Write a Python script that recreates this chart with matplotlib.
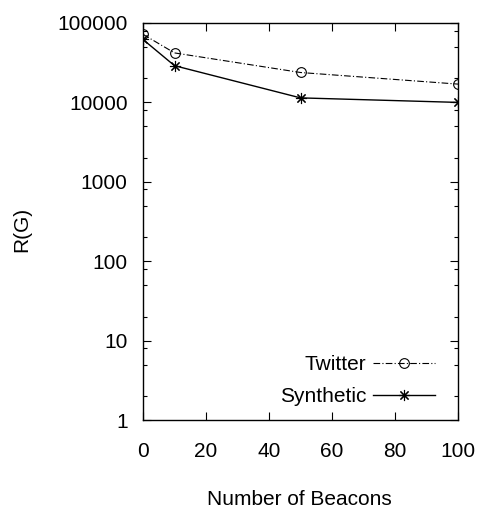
import matplotlib
matplotlib.use('Agg')
import matplotlib.pyplot as plt
from matplotlib.ticker import LogLocator, NullFormatter, FixedLocator

plt.rcParams['font.family'] = ['Liberation Sans', 'DejaVu Sans']

beacons = [0, 10, 50, 100]
twitter = [72000, 42000, 23800, 17000]
synthetic = [62000, 29000, 11400, 10000]

x_ticks = [0, 20, 40, 60, 80, 100]
y_ticks = [1, 10, 100, 1000, 10000, 100000]
y_labels = ['1', '10', '100', '1000', '10000', '100000']

FS = 15

fig = plt.figure(figsize=(4.8, 5.17), dpi=100)
ax = fig.add_axes([143 / 480, 1 - 420 / 517, 315 / 480, 397 / 517])

ax.plot(beacons, twitter, color='black', lw=0.8, ls=(0, (6, 2, 1, 2)),
        marker='o', ms=7, mfc='none', mec='black', mew=0.8, label='Twitter')
ax.plot(beacons, synthetic, color='black', lw=1.0, ls='-',
        marker=(8, 2, 0), ms=8, mec='black', mew=0.8, label='Synthetic')

ax.set_yscale('log')
ax.set_xlim(0, 100)
ax.set_ylim(1, 100000)
ax.xaxis.set_major_locator(FixedLocator(x_ticks))
ax.set_xticklabels([str(v) for v in x_ticks])
ax.yaxis.set_major_locator(FixedLocator(y_ticks))
ax.set_yticklabels(y_labels)
ax.yaxis.set_minor_locator(LogLocator(base=10, subs=[2, 5, 8]))
ax.yaxis.set_minor_formatter(NullFormatter())

ax.tick_params(which='both', direction='in', top=True, right=True, labelsize=FS)
ax.tick_params(which='major', length=6, width=0.8)
ax.tick_params(axis='y', which='minor', length=3, width=0.8)
ax.tick_params(axis='x', pad=16)
ax.tick_params(axis='y', pad=11)
for s in ax.spines.values():
    s.set_linewidth(1.0)

ax.text(0.498, -0.2, 'Number of Beacons', transform=ax.transAxes,
        ha='center', va='center', fontsize=FS)
ax.text(-0.384, 0.48, 'R(G)', transform=ax.transAxes, rotation=90,
        ha='center', va='center', fontsize=FS)

ax.legend(loc='lower right', bbox_to_anchor=(0.97, 0.0), frameon=False,
          markerfirst=False, fontsize=FS, handlelength=3.0, handletextpad=0.3,
          labelspacing=0.65, borderaxespad=0.25)

fig.savefig('out.png', dpi=100)
